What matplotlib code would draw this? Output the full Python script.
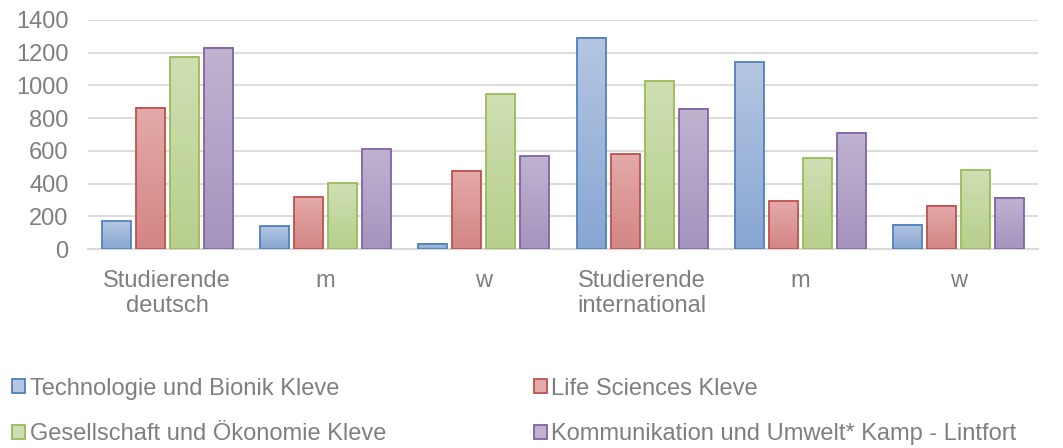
import matplotlib.pyplot as plt
import numpy as np
from matplotlib.colors import LinearSegmentedColormap
from matplotlib.patches import Patch

plt.rcParams['font.family'] = ['Liberation Sans', 'DejaVu Sans']

# Kategorien (x-Achse)
kategorien = ["Studierende\ndeutsch", "m", "w", "Studierende\ninternational", "m", "w"]

# Werte pro Fachbereich
technologie = [171, 139, 31, 1290, 1141, 149]
life_sciences = [864, 316, 477, 579, 292, 263]
gesellschaft = [1176, 403, 947, 1027, 554, 485]
kommunikation = [1231, 609, 568, 856, 711, 314]

serien = ["Technologie und Bionik Kleve", "Life Sciences Kleve",
          "Gesellschaft und Ökonomie Kleve", "Kommunikation und Umwelt* Kamp - Lintfort"]
yticks = [0, 200, 400, 600, 800, 1000, 1200, 1400]

werte = [technologie, life_sciences, gesellschaft, kommunikation]
rand = ['#4F81BD', '#C0504D', '#9BBB59', '#8064A2']
oben = ['#B4C6E2', '#E3AAA9', '#CFDFB3', '#BFB3D0']
unten = ['#88A6D3', '#D38684', '#B7CF8C', '#A594BE']
grau = '#7F7F7F'

fig = plt.figure(figsize=(10.63, 4.48), dpi=100)
ax = fig.add_axes([88/1063, 1-249/448, (1038-88)/1063, (249-20)/448])

x = np.arange(len(kategorien))
pitch = 0.2148
breite = 0.183
for s in range(4):
    cmap = LinearSegmentedColormap.from_list('g%d' % s, [unten[s], oben[s]])
    grad = np.linspace(1, 0, 64).reshape(-1, 1)
    for i in range(len(kategorien)):
        xc = x[i] + (s - 1.5) * pitch
        h = werte[s][i]
        ax.imshow(grad, extent=[xc - breite/2, xc + breite/2, 0, h], aspect='auto',
                  cmap=cmap, vmin=0, vmax=1, zorder=2, interpolation='bilinear')
        ax.bar(xc, h, width=breite, facecolor='none', edgecolor=rand[s], linewidth=1.3, zorder=3)

ax.set_xlim(-0.5, len(kategorien) - 0.5)
ax.set_ylim(0, 1400)
ax.set_yticks(yticks)
ax.set_xticks(x)
ax.set_xticklabels(kategorien)
ax.grid(axis='y', color='#D9D9D9', linewidth=1.3, zorder=0)
ax.set_axisbelow(True)
for sp in ['top', 'right', 'left']:
    ax.spines[sp].set_visible(False)
ax.spines['bottom'].set_color('#D9D9D9')
ax.spines['bottom'].set_linewidth(1.5)
ax.tick_params(axis='both', length=0, labelsize=17, colors=grau)
ax.tick_params(axis='x', pad=15)
ax.tick_params(axis='y', pad=14)

# Legende: Marker-Farbe wie die obere Verlaufsfarbe
handles = [Patch(facecolor=oben[s], edgecolor=rand[s], linewidth=1.3, label=serien[s]) for s in range(4)]
order = [0, 2, 1, 3]
leg = fig.legend([handles[i] for i in order], [serien[i] for i in order], ncol=2,
                 loc='center left', bbox_to_anchor=(2.6/1063, 1-411.5/448), frameon=False,
                 fontsize=17, handlelength=0.55, handleheight=0.55, handletextpad=0.19,
                 columnspacing=6.27, labelspacing=1.0, borderaxespad=0)
for t in leg.get_texts():
    t.set_color(grau)

fig.savefig('out.png', dpi=100)
